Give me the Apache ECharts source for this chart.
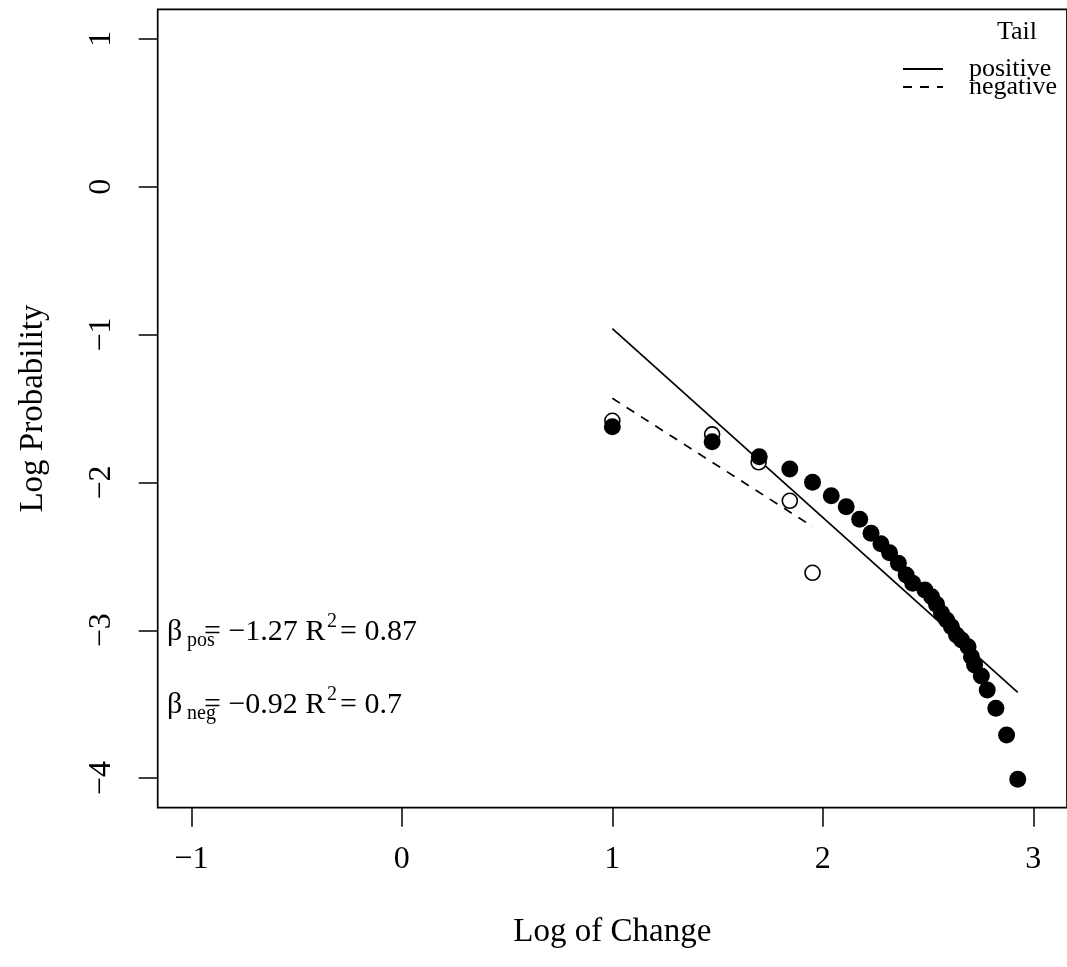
<!DOCTYPE html>
<html><head><meta charset="utf-8">
<script src="https://cdn.jsdelivr.net/npm/echarts@6/dist/echarts.min.js"></script>
<style>html,body{margin:0;padding:0;background:#fff}#c{width:1067px;height:967px}</style>
</head><body><div id="c"></div>
<script>
// positive tail points (log change, log probability)
const posX = [1.000, 1.474, 1.698, 1.843, 1.951, 2.040, 2.111, 2.175, 2.229, 2.276, 2.317, 2.359, 2.396, 2.427, 2.485, 2.517, 2.540, 2.564, 2.588, 2.611, 2.635, 2.659, 2.690, 2.706, 2.721, 2.753, 2.781, 2.822, 2.873, 2.926];
const posY = [-1.623, -1.725, -1.826, -1.909, -1.999, -2.090, -2.164, -2.249, -2.344, -2.415, -2.475, -2.547, -2.626, -2.682, -2.728, -2.773, -2.824, -2.885, -2.930, -2.976, -3.032, -3.066, -3.111, -3.179, -3.235, -3.309, -3.404, -3.528, -3.708, -4.008];
// negative tail points
const negX = [1.000, 1.474, 1.695, 1.843, 1.951];
const negY = [-1.583, -1.675, -1.864, -2.124, -2.611];
// fitted lines
const posFitX = [1.0, 2.926];
const posFitY = [-0.96, -3.42];
const negFitX = [1.0, 1.953];
const negFitY = [-1.431, -2.30];
// ticks
const xTicks = [-1, 0, 1, 2, 3];
const yTicks = [-4, -3, -2, -1, 0, 1];
const annPos = {beta: '-1.27', r2: '0.87'};
const annNeg = {beta: '-0.92', r2: '0.7'};

const FONT = 'Liberation Serif';
const zip = (a, b) => a.map((v, i) => [v, b[i]]);
const fmt = v => String(v).replace('-', '\u2212');

const chart = echarts.init(document.getElementById('c'));
const base = {fill: '#000', fontFamily: FONT};
function txt(x, y, text, size, align) {
  return {type: 'text', style: Object.assign({}, base, {x: x, y: y, text: text, fontSize: size, textAlign: align || 'left', textVerticalAlign: 'middle'})};
}
function annotation(y, sub, a) {
  return [
    txt(167, y, '\u03b2', 30),
    txt(187, y + 9, sub, 20),
    txt(204, y, '= ' + fmt(a.beta) + ' R', 30),
    txt(327, y - 10, '2', 20),
    txt(340, y, '= ' + a.r2, 30)
  ];
}

chart.setOption({
  animation: false,
  backgroundColor: '#fff',
  textStyle: {fontFamily: FONT, color: '#000'},
  grid: {left: 157.7, top: 9.3, width: 914.3, height: 798.4, show: true, borderColor: '#000', borderWidth: 1.7, backgroundColor: 'transparent', containLabel: false},
  xAxis: {
    type: 'value', min: -1.16, max: 3.16,
    name: 'Log of Change', nameLocation: 'middle', nameGap: 108,
    nameTextStyle: {fontFamily: FONT, fontSize: 33, color: '#000'},
    axisLine: {show: false, onZero: false},
    splitLine: {show: false},
    axisTick: {show: true, length: 19, inside: false, customValues: xTicks, lineStyle: {color: '#000', width: 1.5}},
    axisLabel: {customValues: xTicks, formatter: fmt, fontFamily: FONT, fontSize: 32, color: '#000', margin: 36}
  },
  yAxis: {
    type: 'value', min: -4.2, max: 1.2,
    name: 'Log Probability', nameLocation: 'middle', nameRotate: 90, nameGap: 108,
    nameTextStyle: {fontFamily: FONT, fontSize: 33, color: '#000'},
    axisLine: {show: false, onZero: false},
    splitLine: {show: false},
    axisTick: {show: true, length: 19, inside: false, customValues: yTicks, lineStyle: {color: '#000', width: 1.5}},
    axisLabel: {customValues: yTicks, formatter: fmt, rotate: 90, fontFamily: FONT, fontSize: 32, color: '#000', margin: 40}
  },
  legend: {
    data: ['positive', 'negative'],
    orient: 'vertical', left: 902, top: 56, padding: 0,
    itemWidth: 40, itemHeight: 18, itemGap: -8,
    itemStyle: {opacity: 0},
    textStyle: {fontFamily: FONT, fontSize: 26, color: '#000', padding: [0, 0, 0, 21]}
  },
  graphic: [
    txt(1017, 32, 'Tail', 26, 'center'),
    ...annotation(632, 'pos', annPos),
    ...annotation(705, 'neg', annNeg)
  ],
  series: [
    {name: 'positive', type: 'line', data: zip(posFitX, posFitY), symbol: 'none', lineStyle: {color: '#000', width: 1.7, type: 'solid'}, itemStyle: {color: '#000'}, z: 3},
    {name: 'negative', type: 'line', data: zip(negFitX, negFitY), symbol: 'none', lineStyle: {color: '#000', width: 1.7, type: [9, 8]}, itemStyle: {color: '#000'}, z: 3},
    {name: 'neg points', type: 'scatter', data: zip(negX, negY), symbol: 'circle', symbolSize: 15, itemStyle: {color: '#fff', borderColor: '#000', borderWidth: 1.6, opacity: 1}, z: 4},
    {name: 'pos points', type: 'scatter', data: zip(posX, posY), symbol: 'circle', symbolSize: 17, itemStyle: {color: '#000', opacity: 1}, z: 5}
  ]
});
</script></body></html>
